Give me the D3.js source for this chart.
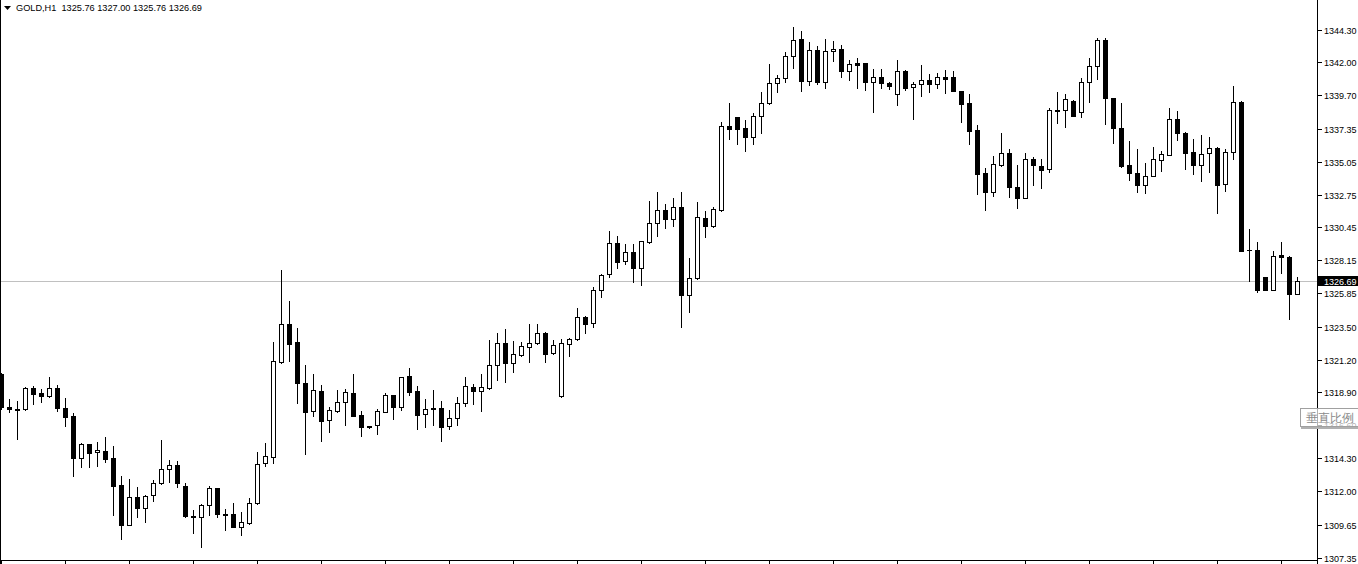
<!DOCTYPE html>
<html>
<head>
<meta charset="utf-8">
<script src="https://cdnjs.cloudflare.com/ajax/libs/d3/7.8.5/d3.min.js"></script>
<style>
    html, body { margin: 0; padding: 0; background: #fff; overflow: hidden; }
    text { font-family: "Liberation Sans", Arial, sans-serif; }
</style>
</head>
<body>
<div id="chart"></div>
<script>
// GOLD,H1 bars (oldest first)
var opens = [1320.18,1317.87,1317.76,1317.71,1319.18,1318.85,1318.62,1319.18,1317.78,1317.22,
    1314.28,1315.26,1314.70,1314.79,1314.28,1312.39,1309.63,1311.55,1310.82,1311.69,
    1312.53,1313.51,1313.79,1312.32,1310.24,1310.15,1310.99,1312.20,1310.38,1310.36,
    1309.45,1309.77,1311.13,1313.93,1314.39,1321.00,1323.66,1322.42,1319.53,1317.57,
    1318.97,1316.94,1317.61,1318.20,1318.83,1317.31,1316.52,1316.63,1317.54,1318.71,
    1317.89,1320.04,1318.99,1317.40,1317.78,1317.80,1316.56,1317.08,1318.13,1319.25,
    1319.01,1319.22,1320.79,1322.33,1320.97,1321.53,1322.09,1322.33,1323.03,1321.63,
    1318.62,1322.26,1322.61,1324.15,1323.73,1326.04,1327.16,1329.33,1328.07,1328.70,
    1327.58,1329.40,1330.73,1331.64,1331.05,1331.85,1325.73,1326.88,1331.08,1330.56,
    1331.68,1337.52,1338.15,1337.38,1336.75,1338.22,1339.13,1340.53,1340.88,1342.42,
    1343.61,1340.71,1342.84,1340.64,1342.77,1342.91,1341.41,1341.93,1341.93,1340.64,
    1340.95,1340.55,1339.76,1341.37,1340.25,1340.46,1340.74,1340.46,1340.95,1340.95,
    1339.97,1339.13,1337.24,1334.23,1332.94,1334.83,1335.63,1333.25,1332.52,1335.21,
    1334.72,1334.55,1338.66,1338.64,1339.27,1338.50,1340.60,1341.72,1343.54,1339.48,
    1337.38,1334.79,1334.23,1333.39,1334.04,1335.16,1335.51,1338.01,1337.05,1335.70,
    1334.83,1335.63,1335.98,1333.46,1335.70,1339.20,1328.90,1328.84,1326.95,1326.08,
    1328.51,1328.35,1325.76];
var highs = [1320.25,1318.43,1318.29,1319.25,1319.34,1319.11,1319.95,1319.39,1318.48,1317.43,
    1315.33,1315.30,1315.42,1315.77,1315.12,1313.04,1312.83,1312.27,1311.69,1312.74,
    1315.56,1314.16,1314.09,1312.53,1310.66,1311.06,1312.34,1312.22,1310.73,1311.13,
    1310.50,1311.50,1314.72,1315.35,1322.44,1327.46,1325.29,1323.40,1320.79,1320.18,
    1319.39,1317.87,1319.06,1319.13,1320.18,1317.59,1316.54,1317.73,1318.83,1318.73,
    1319.97,1320.60,1319.34,1318.43,1319.06,1318.27,1317.66,1318.57,1319.97,1319.46,
    1320.18,1322.56,1323.05,1323.33,1322.49,1322.42,1323.68,1323.68,1323.10,1322.54,
    1322.63,1322.68,1324.78,1324.22,1326.27,1327.18,1330.19,1329.84,1329.28,1329.28,
    1329.51,1332.29,1332.92,1332.08,1332.50,1332.92,1328.30,1332.22,1331.61,1331.85,
    1337.80,1339.15,1338.17,1337.96,1338.43,1339.90,1341.88,1341.09,1342.70,1344.47,
    1344.17,1343.40,1343.12,1343.61,1343.47,1343.21,1342.14,1342.28,1341.95,1341.51,
    1341.51,1340.64,1342.16,1341.44,1340.60,1341.79,1341.16,1341.23,1341.44,1341.37,
    1339.99,1339.76,1337.59,1334.58,1335.42,1337.03,1335.91,1334.79,1335.63,1335.35,
    1335.21,1338.78,1339.92,1339.76,1339.34,1340.88,1342.28,1343.68,1343.68,1339.50,
    1339.13,1336.47,1335.91,1334.93,1336.05,1335.81,1338.78,1338.57,1337.12,1336.61,
    1336.89,1336.75,1336.05,1335.91,1340.34,1339.27,1330.31,1329.40,1326.97,1328.77,
    1329.40,1328.42,1327.00];
var lows = [1317.73,1317.52,1315.63,1317.69,1318.06,1318.24,1318.60,1317.61,1316.56,1313.06,
    1313.69,1313.69,1313.74,1314.04,1310.33,1308.65,1309.61,1310.19,1309.84,1311.31,
    1312.51,1312.64,1312.29,1310.20,1309.07,1308.09,1310.33,1310.19,1309.28,1309.47,
    1308.93,1309.70,1311.11,1313.76,1313.97,1320.98,1321.11,1318.17,1314.60,1317.26,
    1315.49,1316.12,1317.54,1316.63,1317.24,1315.86,1316.42,1316.00,1317.52,1317.03,
    1317.66,1318.71,1316.33,1316.49,1316.61,1315.49,1316.35,1316.63,1317.96,1318.06,
    1317.61,1319.13,1319.76,1319.62,1320.32,1321.44,1321.04,1322.26,1321.04,1321.61,
    1318.60,1321.42,1322.59,1323.03,1323.45,1325.59,1326.99,1327.62,1327.90,1326.64,
    1326.45,1329.38,1329.86,1330.42,1330.56,1323.45,1324.54,1326.86,1329.79,1330.49,
    1331.61,1336.65,1336.30,1335.81,1336.30,1337.07,1339.06,1339.92,1340.60,1341.62,
    1340.01,1340.43,1340.50,1340.22,1342.11,1340.99,1340.78,1340.22,1340.08,1338.54,
    1340.22,1340.11,1339.03,1340.04,1338.05,1339.66,1339.94,1340.22,1339.87,1339.97,
    1337.84,1336.26,1332.80,1331.68,1332.66,1334.76,1332.59,1331.82,1332.50,1333.43,
    1333.22,1334.34,1337.77,1337.45,1338.22,1338.19,1339.24,1340.81,1337.66,1336.33,
    1334.65,1333.76,1332.94,1332.83,1334.02,1334.37,1335.49,1336.58,1334.55,1334.20,
    1333.71,1334.34,1331.43,1333.01,1335.25,1328.79,1326.71,1325.94,1326.06,1326.06,
    1327.27,1324.03,1325.76];
var closes = [1317.87,1317.73,1317.70,1319.18,1318.80,1318.62,1319.18,1317.82,1317.19,1314.32,
    1315.26,1314.67,1314.86,1314.25,1312.36,1309.63,1311.55,1310.82,1311.64,1312.53,
    1313.51,1313.79,1312.57,1310.22,1310.17,1310.99,1312.20,1310.40,1310.33,1309.49,
    1309.80,1311.13,1313.86,1314.42,1321.09,1323.66,1322.30,1319.53,1317.54,1319.04,
    1316.91,1317.64,1318.20,1318.90,1317.26,1316.49,1316.45,1317.57,1318.71,1317.89,
    1319.95,1318.94,1317.33,1317.73,1317.73,1316.49,1317.10,1318.13,1319.32,1319.01,
    1319.25,1320.79,1322.33,1320.97,1321.56,1322.12,1322.33,1323.03,1321.60,1322.19,
    1322.33,1322.61,1324.15,1323.66,1326.04,1327.11,1329.33,1328.04,1328.70,1327.58,
    1329.49,1330.73,1331.64,1331.05,1331.85,1325.73,1326.88,1331.15,1330.56,1331.71,
    1337.52,1337.35,1337.35,1336.79,1338.22,1339.13,1340.53,1340.88,1342.42,1343.54,
    1340.71,1342.84,1340.64,1342.77,1342.91,1341.41,1341.86,1341.83,1340.64,1340.95,
    1340.53,1340.36,1341.37,1340.18,1340.46,1340.74,1340.46,1340.95,1340.85,1340.01,
    1339.10,1337.21,1334.20,1332.94,1334.86,1335.63,1333.29,1332.52,1335.21,1334.79,
    1334.48,1338.64,1338.62,1339.41,1338.26,1340.60,1341.72,1343.54,1339.48,1337.38,
    1334.76,1334.23,1333.39,1334.06,1335.21,1335.56,1338.01,1337.03,1335.67,1334.83,
    1335.56,1335.98,1333.43,1335.70,1339.20,1328.81,1328.86,1326.06,1326.08,1328.42,
    1328.35,1325.76,1326.69];

// price scale labels on the right
var priceTicks = [1344.30, 1342.00, 1339.70, 1337.35, 1335.05, 1332.75, 1330.45, 1328.15,
    1325.85, 1323.50, 1321.20, 1318.90, 1316.60, 1314.30, 1312.00, 1309.65, 1307.35];

var symbol = "GOLD,H1";
var scaleButton = "垂直比例";

var width = 1358, height = 564;
var axisX = 1317, axisY = 560;

var svg = d3.select("#chart").append("svg")
    .attr("width", width)
    .attr("height", height)
    .attr("shape-rendering", "crispEdges");

var bars = opens.map(function (o, i) {
    return {i: i, o: o, h: highs[i], l: lows[i], c: closes[i]};
});
var last = bars[bars.length - 1];

// one bar every 8px
var x = d3.scaleLinear()
    .domain([0, bars.length - 1])
    .range([1, 1 + 8 * (bars.length - 1)]);

var y = d3.scaleLinear()
    .domain([1307.35, 1344.30])
    .range([557.5, 29.5]);

// frame
svg.append("rect").attr("x", 0).attr("y", 0).attr("width", 1).attr("height", height).attr("fill", "#000");
svg.append("rect").attr("x", axisX).attr("y", 0).attr("width", 1).attr("height", height).attr("fill", "#000");
svg.append("rect").attr("x", 0).attr("y", axisY).attr("width", axisX).attr("height", 1).attr("fill", "#000");

// time ticks every 8 bars
svg.selectAll(".tticks")
    .data(d3.range(0, bars.length, 8))
    .enter().append("rect")
    .attr("x", function (d) { return Math.round(x(d)); })
    .attr("y", axisY + 1)
    .attr("width", 1)
    .attr("height", 4)
    .attr("fill", "#000");

// bid line
svg.append("rect")
    .attr("x", 1).attr("y", Math.round(y(last.c)))
    .attr("width", axisX - 1).attr("height", 1)
    .attr("fill", "#c0c0c0");

// candles
var candle = svg.append("g").selectAll("g")
    .data(bars)
    .enter().append("g");

candle.append("rect")
    .attr("x", function (d) { return Math.round(x(d.i)); })
    .attr("y", function (d) { return Math.round(y(d.h)); })
    .attr("width", 1)
    .attr("height", function (d) { return Math.round(y(d.l)) - Math.round(y(d.h)) + 1; })
    .attr("fill", "#000");

function bodyTop(d) { return Math.round(y(Math.max(d.o, d.c))); }
function bodyBot(d) { return Math.round(y(Math.min(d.o, d.c))); }

candle.append("rect")
    .attr("x", function (d) { return Math.round(x(d.i)) - 2; })
    .attr("y", bodyTop)
    .attr("width", 5)
    .attr("height", function (d) { return bodyBot(d) - bodyTop(d) + 1; })
    .attr("fill", "#000");

candle.filter(function (d) { return d.c >= d.o && bodyBot(d) - bodyTop(d) > 1; })
    .append("rect")
    .attr("x", function (d) { return Math.round(x(d.i)) - 1; })
    .attr("y", function (d) { return bodyTop(d) + 1; })
    .attr("width", 3)
    .attr("height", function (d) { return bodyBot(d) - bodyTop(d) - 1; })
    .attr("fill", "#fff");

// price axis
var pt = svg.append("g").selectAll("g")
    .data(priceTicks)
    .enter().append("g")
    .attr("transform", function (d) { return "translate(0," + Math.round(y(d)) + ")"; });

pt.append("rect")
    .attr("x", axisX + 1).attr("y", 0)
    .attr("width", 4).attr("height", 1)
    .attr("fill", "#000");

pt.append("text")
    .attr("x", 1324)
    .attr("y", 4)
    .attr("font-size", "9px")
    .attr("fill", "#000")
    .text(function (d) { return d.toFixed(2); });

// current price label
var ly = Math.round(y(last.c));
svg.append("rect")
    .attr("x", axisX + 1).attr("y", ly - 5)
    .attr("width", width - axisX - 1).attr("height", 10)
    .attr("fill", "#000");
svg.append("text")
    .attr("x", 1324).attr("y", ly + 4)
    .attr("font-size", "9px")
    .attr("fill", "#fff")
    .text(last.c.toFixed(2));

// header
svg.append("path")
    .attr("d", "M4,6 L11,6 L7.5,10 Z")
    .attr("shape-rendering", "auto")
    .attr("fill", "#000");
svg.append("text")
    .attr("x", 16).attr("y", 11)
    .attr("font-size", "9.2px")
    .attr("fill", "#000")
    .attr("xml:space", "preserve")
    .text(symbol + "  " + [last.o, last.h, last.l, last.c].map(function (v) { return v.toFixed(2); }).join(" "));

// vertical scale button
svg.append("rect")
    .attr("x", 1301).attr("y", 427)
    .attr("width", 57).attr("height", 2)
    .attr("fill", "#b0b0b0");
svg.append("rect")
    .attr("x", 1300.5).attr("y", 408.5)
    .attr("width", 58).attr("height", 18)
    .attr("fill", "#fff")
    .attr("fill-opacity", 0.7)
    .attr("stroke", "#a0a0a0");
svg.append("text")
    .attr("x", 1306).attr("y", 422)
    .attr("font-family", "'Noto Sans CJK SC', sans-serif")
    .attr("font-size", "12px")
    .attr("fill", "#8a8a8a")
    .text(scaleButton);
</script>
</body>
</html>
